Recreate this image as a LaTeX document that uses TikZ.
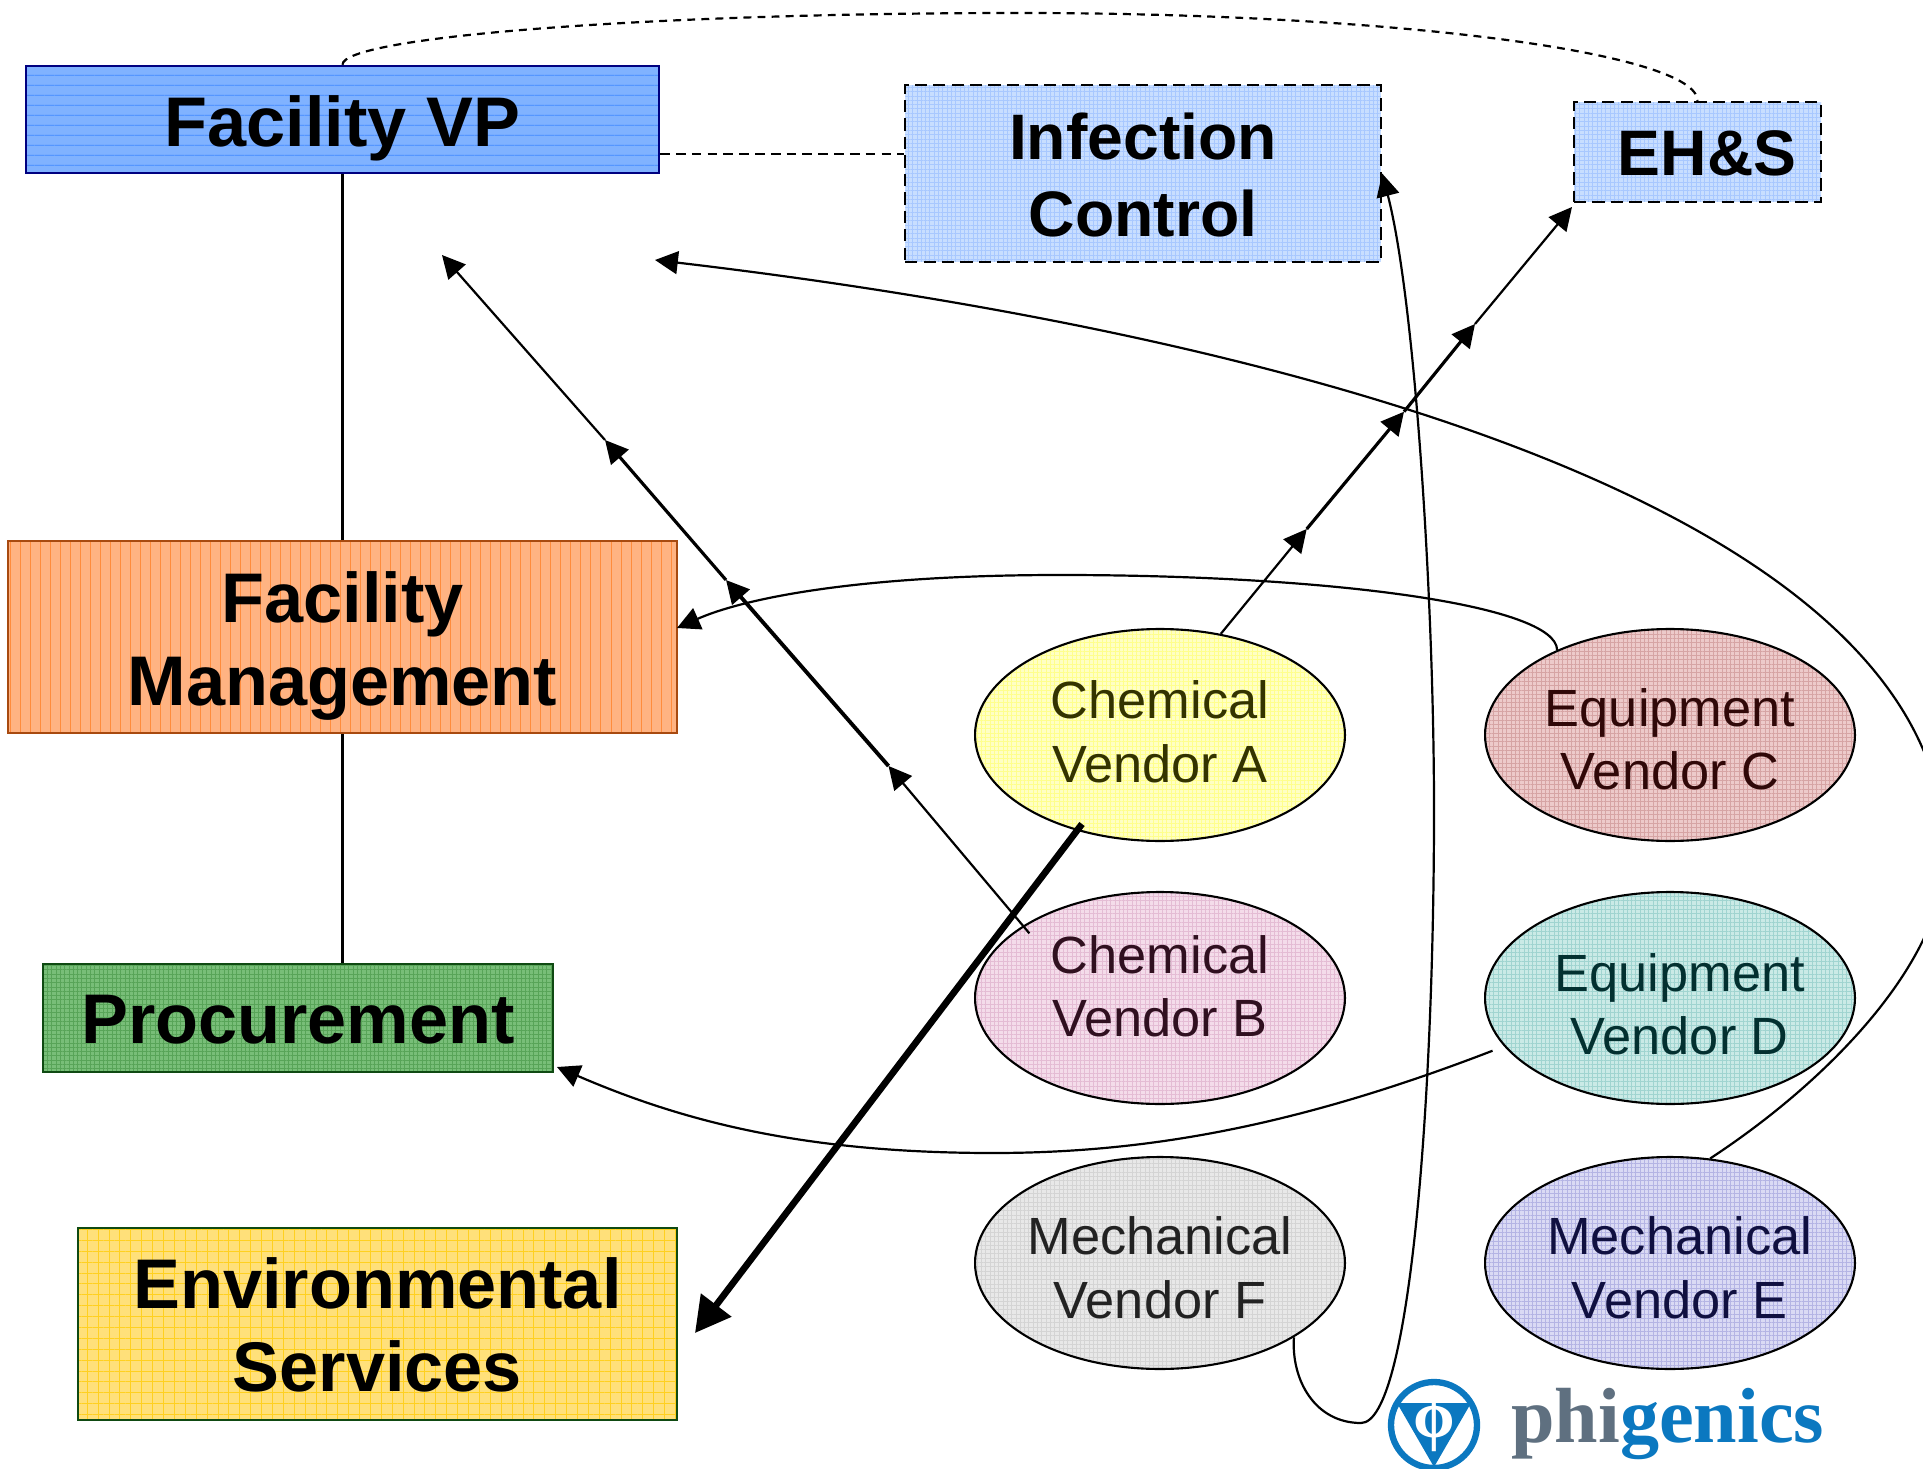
\documentclass[tikz,border=0pt]{standalone}
\usepackage{fontspec}
\setmainfont{Liberation Sans}
\newfontfamily\logofont{Liberation Serif}
\usetikzlibrary{arrows.meta,shapes.geometric,patterns.meta}
\definecolor{vpfill}{HTML}{80B2FF}\definecolor{vpline}{HTML}{3F88FF}\definecolor{vpdraw}{HTML}{000080}
\definecolor{icfill}{HTML}{C8DEFF}\definecolor{icline}{HTML}{A8C8FF}
\definecolor{fmfill}{HTML}{FFB382}\definecolor{fmline}{HTML}{FF8C3C}\definecolor{fmdraw}{HTML}{A84A10}
\definecolor{prfill}{HTML}{78BE78}\definecolor{prline}{HTML}{58A458}\definecolor{grdraw}{HTML}{0F4A12}
\definecolor{enfill}{HTML}{FFE07A}\definecolor{enline}{HTML}{FFD020}
\definecolor{afill}{HTML}{FFFFC4}\definecolor{aline}{HTML}{FFFF8C}\definecolor{atext}{HTML}{333300}
\definecolor{bfill}{HTML}{F4DCEA}\definecolor{bline}{HTML}{E4BCD4}\definecolor{btext}{HTML}{301020}
\definecolor{cfill}{HTML}{EDCACA}\definecolor{cline}{HTML}{D6A4A4}\definecolor{ctext}{HTML}{300808}
\definecolor{dfill}{HTML}{CAEAE6}\definecolor{dline}{HTML}{A0D4D0}\definecolor{dtext}{HTML}{033030}
\definecolor{efill}{HTML}{DADAF4}\definecolor{eline}{HTML}{B4B4E4}\definecolor{etext}{HTML}{101040}
\definecolor{ffill}{HTML}{E8E8E8}\definecolor{fline}{HTML}{D4D4D4}\definecolor{ftext}{HTML}{222222}
\definecolor{logoblue}{HTML}{0B78C0}\definecolor{logogray}{HTML}{5F7080}
% text block of zero size: #1 raise, #2 twice the shift to the right, #3 the lines
\newcommand{\blocktext}[3]{\raisebox{\dimexpr#1-.25em\relax}[0pt][0pt]{\makebox[0pt]{\hspace*{#2}\begin{tabular}{@{}c@{}}#3\end{tabular}}}}
\tikzset{
  x=0.02cm,y=-0.02cm,
  hgrid/.style n args={2}{preaction={fill=#2},preaction={pattern={Hatch[angle=0,distance=2.45pt,line width=.35pt]},pattern color=#1}},
  wgrid/.style n args={2}{preaction={fill=#2},preaction={pattern={Hatch[angle=0,distance=6.2pt,line width=.4pt]},pattern color=#1}},
  hrule/.style n args={2}{preaction={fill=#2},preaction={pattern={Lines[angle=0,distance=5.85pt,line width=.45pt]},pattern color=#1}},
  vrule/.style n args={2}{preaction={fill=#2},preaction={pattern={Lines[angle=90,distance=5.7pt,line width=.45pt]},pattern color=#1}},
  boxnode/.style={rectangle,inner sep=0pt,line width=1.4pt,text=black,
     font=\fontsize{40}{47.5}\selectfont\bfseries},
  dashbox/.style={boxnode,draw=black,dash pattern=on 7pt off 3.5pt,hgrid={icline}{icfill},
     font=\fontsize{36.6}{44}\selectfont\bfseries},
  vendor/.style={ellipse,draw=black,line width=1.2pt,inner sep=0pt,
     minimum width=7.4cm,minimum height=4.24cm,
     font=\fontsize{29.8}{36}\selectfont},
  link/.style={draw=black,line width=1.25pt},
  arr/.style={link,-{Triangle[length=13pt,width=13pt]}},
  arrm/.style={arr,line width=1.8pt},
  arrk/.style={arr,line width=2.2pt},
  arrbig/.style={draw=black,line width=3.8pt,-{Triangle[length=20pt,width=21pt]}},
  dashlink/.style={link,dash pattern=on 5.5pt off 3.5pt},
  dashtop/.style={link,dash pattern=on 4.5pt off 3.5pt},
}
\begin{document}
\begin{tikzpicture}
\useasboundingbox (0,0) rectangle (1923,1469);
% boxes
\node[boxnode,draw=vpdraw,hrule={vpline}{vpfill},minimum width=12.66cm,minimum height=2.14cm] (vp) at (342.5,119.5) {\blocktext{-2.1pt}{0pt}{Facility VP}};
\node[dashbox,minimum width=9.52cm,minimum height=3.54cm] (ic) at (1143,173.5) {\blocktext{-2.1pt}{0pt}{Infection\\Control}};
\node[dashbox,minimum width=4.94cm,minimum height=2cm] (eh) at (1697.5,152) {\blocktext{-1.4pt}{11pt}{EH\&S}};
\node[boxnode,draw=fmdraw,vrule={fmline}{fmfill},minimum width=13.38cm,minimum height=3.84cm] (fm) at (342.5,637) {\blocktext{-2.2pt}{0pt}{Facility\\Management}};
\node[boxnode,draw=grdraw,hgrid={prline}{prfill},minimum width=10.2cm,minimum height=2.16cm] (pr) at (298,1018) {\blocktext{-1.4pt}{0pt}{Procurement}};
\node[boxnode,draw=grdraw,wgrid={enline}{enfill},minimum width=11.98cm,minimum height=3.84cm] (en) at (377.5,1324) {\blocktext{-1.4pt}{0pt}{Environmental\\Services}};
% vendors
\node[vendor,hgrid={aline}{afill},text=atext] (va) at (1160,735) {\blocktext{-.4pt}{0pt}{Chemical\\Vendor A}};
\node[vendor,hgrid={bline}{bfill},text=btext] (vb) at (1160,998) {\blocktext{4.3pt}{0pt}{Chemical\\Vendor B}};
\node[vendor,hgrid={cline}{cfill},text=ctext] (vc) at (1670,735) {\blocktext{-4.8pt}{0pt}{Equipment\\Vendor C}};
\node[vendor,hgrid={dline}{dfill},text=dtext] (vd) at (1670,998) {\blocktext{-5.6pt}{11pt}{Equipment\\Vendor D}};
\node[vendor,hgrid={fline}{ffill},text=ftext] (vf) at (1160,1263) {\blocktext{-4.9pt}{0pt}{Mechanical\\Vendor F}};
\node[vendor,hgrid={eline}{efill},text=etext] (ve) at (1670,1263) {\blocktext{-4.9pt}{11pt}{Mechanical\\Vendor E}};
% free ends
\coordinate (a1) at (1306.7,529);
\coordinate (a2) at (1404,411.7);
\coordinate (a3) at (1475,324);
\coordinate (atip) at (1572,207);
\coordinate (b1) at (888.5,766);
\coordinate (b2) at (726,580);
\coordinate (b3) at (605,440);
\coordinate (btip) at (442,255);
\coordinate (entip) at (695,1333);
\coordinate (fmtip) at (677,628);
\coordinate (prtip) at (557,1067);
\coordinate (vptip) at (655,260);
\coordinate (dashy) at (800,154);
\coordinate (vatail) at (1082,824);
% org lines
\draw[link] (vp.south) -- (fm.north);
\draw[link] (fm.south) -- (fm.south |- pr.north);
\draw[dashlink] (vp.east |- dashy) -- (ic.west |- dashy);
\draw[dashtop] (vp.north) .. controls (342,37) and (646,13) .. (1020,13) .. controls (1394,13) and (1697.5,53) .. (eh.north);
% vendor A up
\draw[arr] (va.59) -- (a1);
\draw[arrm] (a1) -- (a2);
\draw[arrm] (a2) -- (a3);
\draw[arr] (a3) -- (atip);
% vendor B up
\draw[arr] ([shift={(6,8)}]vb.152) -- (b1);
\draw[arrk] (b1) -- (b2);
\draw[arrm] (b2) -- (b3);
\draw[arr] (b3) -- (btip);
% vendor A down
\draw[arrbig] (vatail) -- (entip);
% curves
\draw[arr] (vc.143) .. controls (1556,605) and (1330,575) .. (1060,575) .. controls (850,575) and (740,600) .. (fmtip);
\draw[arr] ([shift={(-11,5)}]vd.196.6) .. controls (1300,1125) and (1150,1153) .. (993,1153) .. controls (800,1153) and (680,1120) .. (prtip);
\draw[arr] (ve.69) .. controls (1830,1080) and (1945,960) .. (1945,855) .. controls (1945,500) and (1250,330) .. (vptip);
\draw[arr] (vf.-29.5) .. controls (1291,1380) and (1315,1423) .. (1361,1423) .. controls (1410,1423) and (1434,1100) .. (1434,810) .. controls (1434,600) and (1415,300) .. (ic.east);
% logo
\node[circle,draw=logoblue,line width=3.6pt,minimum size=1.72cm,inner sep=0pt] (logoring) at (1434,1425) {};
\fill[logoblue] (1397,1403) -- (1471,1403) -- (1434,1467) -- cycle;
\node[text=white,inner sep=0pt,font=\fontsize{38}{38}\selectfont\logofont\bfseries] (logophi) at (1434,1421) {ϕ};
\node[anchor=base west,inner sep=0pt,font=\fontsize{44.5}{44.5}\selectfont\logofont\bfseries] (logotext) at (1511,1442) {\textcolor{logogray}{phi}\textcolor{logoblue}{genics}};
\end{tikzpicture}
\end{document}
